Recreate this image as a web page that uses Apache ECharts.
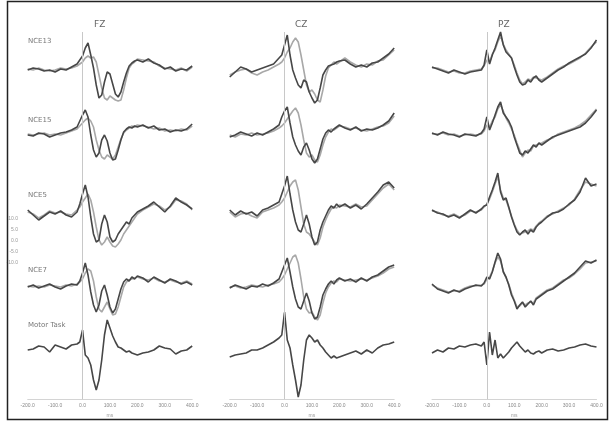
<!DOCTYPE html>
<html><head><meta charset="utf-8">
<script src="https://cdn.jsdelivr.net/npm/echarts@6/dist/echarts.min.js"></script>
<style>html,body{margin:0;padding:0;background:#fff}#c{width:611px;height:423px}</style>
</head><body><div id="c"></div>
<script>
// ---------- DATA ----------
const times = [-200,-180,-160,-140,-120,-100,-80,-60,-40,-20,-10,0,10,20,30,40,50,60,70,80,90,100,110,120,130,140,150,160,170,180,190,200,220,240,260,280,300,320,340,360,380,400];
const electrodes = ['FZ','CZ','PZ'];
const conditions = ['NCE13','NCE15','NCE5','NCE7','Motor Task'];
const xTickValues = [-200,-100,0,100,200,300,400];
const scaleLabels = ['10.0','5.0','0.0','-5.0','-10.0'];
const timeUnit = 'ms';

// FZ
const fzNce13Dark  = [0,2,1,-1,0,-2,1,0,3,6,10,14,22,27,15,2,-15,-28,-25,-12,-2,-4,-14,-24,-27,-22,-12,-3,4,7,9,10,8,11,7,5,1,3,-1,1,0,4];
const fzNce13Light = [1,0,2,0,-1,0,2,1,2,4,6,8,12,14,12,13,8,-5,-18,-28,-30,-26,-28,-30,-31,-30,-20,-8,2,6,8,11,10,9,8,4,2,1,0,2,-1,3];
const fzNce15Dark  = [0,-1,2,1,-2,0,2,3,5,8,14,20,25,18,0,-15,-22,-18,-5,0,-6,-18,-25,-24,-15,-5,3,6,8,7,9,8,10,7,9,5,6,3,5,4,6,11];
const fzNce15Light = [1,0,1,2,0,1,0,2,4,6,9,12,15,17,14,8,-5,-15,-22,-24,-20,-22,-24,-20,-12,-4,2,5,7,9,8,10,9,8,6,7,4,5,4,6,5,9];
const fzNce5Dark   = [2,-3,-8,-4,0,-2,1,-3,-5,0,8,18,27,15,-5,-22,-30,-28,-12,-3,-10,-25,-30,-28,-22,-18,-14,-10,-12,-6,-3,0,3,6,10,5,0,6,14,10,7,3];
const fzNce5Light  = [0,-2,-6,-3,1,-1,0,-2,-3,2,5,10,14,18,12,0,-15,-28,-33,-30,-25,-30,-34,-35,-32,-28,-22,-18,-14,-10,-6,-2,2,5,8,6,2,5,12,11,8,2];
const fzNce7Dark   = [0,2,-1,1,3,0,-2,1,3,2,6,14,24,12,-5,-18,-25,-18,-4,2,-8,-20,-26,-22,-12,-2,5,8,6,10,8,11,9,5,10,7,4,8,6,3,5,2];
const fzNce7Light  = [1,0,1,0,2,1,0,2,1,3,5,8,14,18,16,6,-10,-22,-25,-20,-15,-22,-28,-27,-20,-10,0,5,7,8,9,10,8,7,9,6,5,7,5,4,6,3];
const fzMotor      = [0,1,4,3,-2,5,3,1,5,6,8,20,-5,-8,-15,-30,-40,-30,-10,15,30,22,14,8,3,2,0,-2,-1,-3,-4,-5,-3,-2,0,4,2,1,-4,-1,0,4];
// CZ
const czNce13Dark  = [-7,-2,3,1,-2,0,2,4,6,12,15,25,35,15,0,-8,-15,-18,-10,-12,-22,-28,-33,-30,-18,-5,0,4,5,6,8,9,10,6,3,5,3,7,8,12,16,22];
const czNce13Light = [-5,-2,0,1,-3,-5,-2,0,3,6,8,12,18,22,28,32,28,15,0,-15,-22,-20,-24,-30,-32,-20,-6,2,5,8,6,8,12,8,5,3,6,5,9,10,15,20];
const czNce15Dark  = [-2,0,3,1,-1,2,0,3,6,10,18,24,28,12,-2,-10,-16,-20,-12,-8,-15,-24,-28,-24,-14,-4,2,5,3,6,8,10,7,5,8,4,6,5,7,10,14,22];
const czNce15Light = [0,-2,1,0,2,0,1,2,4,7,9,12,16,20,24,27,22,10,-5,-18,-22,-20,-25,-27,-20,-10,-2,3,6,5,7,9,8,6,7,5,4,6,8,9,12,19];
const czNce5Dark   = [2,-3,1,-2,0,-4,2,4,7,10,18,26,36,18,2,-10,-18,-20,-12,-3,-12,-25,-33,-30,-18,-10,-4,2,6,4,8,5,8,4,7,3,8,14,20,27,30,24];
const czNce5Light  = [0,-5,-2,-1,-4,-6,0,2,4,7,10,14,20,26,30,32,22,5,-12,-20,-22,-26,-30,-33,-26,-15,-8,-2,3,5,4,7,6,5,8,5,6,12,18,24,28,22];
const czNce7Dark   = [-1,2,0,-2,1,0,3,1,4,8,15,22,29,15,0,-12,-20,-22,-14,-6,-14,-26,-32,-30,-20,-8,-2,3,6,3,7,9,6,8,5,9,6,10,12,16,20,22];
const czNce7Light  = [0,1,-1,0,2,1,0,2,3,5,8,12,18,24,30,32,24,8,-10,-22,-26,-25,-30,-33,-28,-16,-6,0,4,6,5,8,7,6,7,8,7,9,11,14,18,20];
const czMotor      = [-7,-5,-4,-3,0,0,2,5,8,12,15,38,10,2,-15,-30,-47,-35,-10,10,15,12,8,10,5,2,-2,-5,-8,-6,-8,-7,-5,-3,-1,-4,0,-3,2,5,6,8];
// PZ
const pzNce13Dark  = [3,1,-1,-3,0,-2,-4,-2,-1,0,5,20,6,15,22,30,38,25,18,15,12,3,-5,-12,-15,-14,-10,-12,-8,-6,-10,-12,-8,-4,0,3,7,10,13,16,22,30];
const pzNce13Light = [2,2,0,-2,-1,-3,-3,-1,0,1,4,10,8,16,20,28,34,26,20,16,12,5,-3,-10,-14,-12,-9,-10,-7,-8,-9,-10,-7,-3,1,4,6,9,12,17,23,28];
const pzNce15Dark  = [2,0,3,1,0,-2,1,0,-1,2,6,18,5,12,20,28,33,22,18,14,8,-2,-10,-18,-20,-16,-18,-14,-10,-12,-8,-10,-6,-2,0,2,4,6,8,12,18,25];
const pzNce15Light = [1,1,2,0,1,-1,0,1,0,1,4,10,8,14,18,26,30,24,17,12,6,0,-8,-15,-22,-18,-15,-16,-11,-10,-9,-8,-5,-3,1,3,5,7,10,14,20,26];
const pzNce5Dark   = [2,-1,-2,-5,-3,-6,-2,2,-1,3,6,7,15,22,30,39,20,12,14,5,-5,-13,-20,-23,-20,-18,-22,-18,-20,-15,-12,-10,-5,-1,0,3,8,12,20,34,26,28];
const pzNce5Light  = [1,0,-3,-4,-2,-5,-3,1,0,2,5,8,13,20,28,35,22,14,12,4,-4,-12,-18,-22,-21,-20,-19,-17,-18,-14,-11,-9,-4,-2,1,4,7,13,22,30,28,26];
const pzNce7Dark   = [3,-2,-4,-6,-3,-5,-2,0,2,1,4,10,8,15,25,34,28,15,10,2,-8,-14,-22,-18,-15,-20,-17,-14,-18,-12,-10,-8,-4,-2,2,6,10,14,20,26,24,27];
const pzNce7Light  = [2,-1,-3,-5,-4,-4,-1,1,1,2,3,8,10,16,24,30,26,16,9,3,-6,-13,-20,-19,-16,-18,-16,-15,-16,-11,-9,-7,-3,-1,3,7,9,13,18,24,25,26];
const pzMotor      = [-3,0,-2,2,1,4,3,5,6,4,8,-15,18,-5,10,-8,-4,-8,-5,-2,2,5,8,4,1,-2,0,-3,-4,-2,-1,-3,0,1,-1,0,2,3,5,6,4,3];

const panels = [
  [[fzNce13Dark,fzNce13Light],[fzNce15Dark,fzNce15Light],[fzNce5Dark,fzNce5Light],[fzNce7Dark,fzNce7Light],[fzMotor]],
  [[czNce13Dark,czNce13Light],[czNce15Dark,czNce15Light],[czNce5Dark,czNce5Light],[czNce7Dark,czNce7Light],[czMotor]],
  [[pzNce13Dark,pzNce13Light],[pzNce15Dark,pzNce15Light],[pzNce5Dark,pzNce5Light],[pzNce7Dark,pzNce7Light],[pzMotor]]
];

// ---------- LAYOUT ----------
const colLeft = [27.7, 229.7, 432];
const colWidth = 164.5;
const rowBase = [70, 135, 212, 287, 350];
const half = 50;
const DARK = '#474747', LIGHT = '#a8a8a8';

const grid = [], xAxis = [], yAxis = [], series = [];
for (let c = 0; c < 3; c++) {
  grid.push({left: colLeft[c], width: colWidth, top: 32, bottom: 21});
  xAxis.push({gridIndex: c, type: 'value', min: -200, max: 400, interval: 100,
    axisLine: {show: true, lineStyle: {color: '#d4d4d4', width: 1}},
    axisTick: {show: false}, splitLine: {show: false},
    axisLabel: {fontSize: 5, color: '#888', margin: 4, formatter: v => v.toFixed(1), showMinLabel: true, showMaxLabel: true},
    name: timeUnit, nameLocation: 'middle', nameGap: 12, nameTextStyle: {fontSize: 5, color: '#999'}});
  yAxis.push({gridIndex: c, type: 'value', min: 0, max: 1, show: false});
  series.push({type: 'line', xAxisIndex: c, yAxisIndex: c, data: [], silent: true,
    markLine: {symbol: 'none', silent: true, label: {show: false},
      lineStyle: {color: '#c8c8c8', width: 1, type: 'solid'}, data: [{xAxis: 0}]}});
}
let gi = 3;
for (let c = 0; c < 3; c++) {
  for (let r = 0; r < 5; r++) {
    grid.push({left: colLeft[c], width: colWidth, top: rowBase[r] - half, height: 2 * half});
    xAxis.push({gridIndex: gi, type: 'value', min: -200, max: 400, show: false});
    yAxis.push({gridIndex: gi, type: 'value', min: -half, max: half, show: false});
    const lines = panels[c][r];
    for (let k = lines.length - 1; k >= 0; k--) {
      series.push({type: 'line', xAxisIndex: gi, yAxisIndex: gi, symbol: 'none', silent: true,
        lineStyle: {color: k === 0 ? DARK : LIGHT, width: 1.6},
        z: k === 0 ? 3 : 2,
        data: times.map((t, i) => [t, lines[k][i]])});
    }
    gi++;
  }
}
grid.push({left: 20, width: 1, top: 219, height: 44});
xAxis.push({gridIndex: gi, type: 'value', show: false});
yAxis.push({gridIndex: gi, type: 'category', data: scaleLabels, boundaryGap: false, inverse: true,
  axisLine: {show: false}, axisTick: {show: false},
  axisLabel: {fontSize: 5, color: '#999', margin: 2, interval: 0}});

const titleX = [89, 290, 493];
const labelY = [38, 117, 192, 267, 322];
const titles = electrodes.map((e, c) => ({left: titleX[c], top: 15, text: e,
  textStyle: {fontSize: 9, color: '#666', fontWeight: 'normal', fontFamily: 'DejaVu Sans'}}));
const labels = conditions.map((s, r) => ({left: 23, top: labelY[r] - 5, text: s,
  textStyle: {fontSize: 7, color: '#777', fontWeight: 'normal', fontFamily: 'DejaVu Sans'}}));

const chart = echarts.init(document.getElementById('c'), null, {renderer: 'canvas'});
chart.setOption({
  animation: false,
  backgroundColor: '#fff',
  title: titles.concat(labels),
  grid, xAxis, yAxis, series,
  graphic: [{type: 'rect', shape: {x: 7.5, y: 1.5, width: 600, height: 418},
    style: {fill: 'none', stroke: '#222', lineWidth: 1.5}, z: 100}]
});
</script></body></html>
